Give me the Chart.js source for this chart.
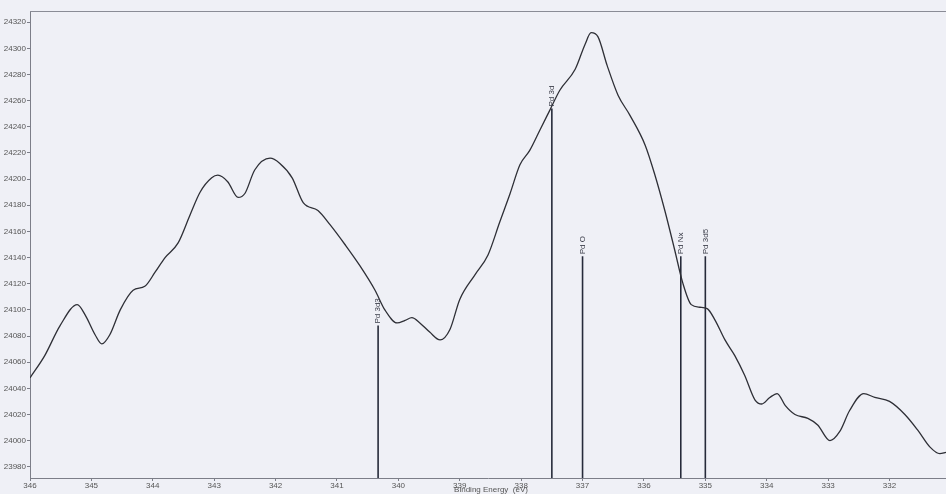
<!DOCTYPE html>
<html>
<head>
<meta charset="utf-8">
<script src="https://cdn.jsdelivr.net/npm/chart.js@4.4.1/dist/chart.umd.min.js"></script>
<style>
  html, body { margin: 0; padding: 0; background: #eff0f6; }
  #wrap { width: 946px; height: 494px; position: relative; }
</style>
</head>
<body>
<div id="wrap"><canvas id="xps-chart"></canvas></div>
<script>
// binding energy (eV) and counts
const energy = [346.00, 345.76, 345.51, 345.23, 345.10, 344.94, 344.83, 344.70, 344.53, 344.32,
  344.13, 343.96, 343.80, 343.59, 343.39, 343.23, 343.04, 342.94, 342.78, 342.61,
  342.50, 342.34, 342.09, 341.93, 341.73, 341.55, 341.31, 341.11, 340.87, 340.63,
  340.38, 340.22, 340.02, 339.89, 339.78, 339.65, 339.49, 339.32, 339.16, 339.00,
  338.75, 338.54, 338.35, 338.18, 338.02, 337.86, 337.69, 337.53, 337.37, 337.12,
  336.96, 336.86, 336.75, 336.60, 336.42, 336.23, 335.98, 335.82, 335.66, 335.50,
  335.37, 335.23, 335.09, 334.97, 334.84, 334.68, 334.52, 334.36, 334.19, 334.08,
  333.95, 333.83, 333.70, 333.54, 333.33, 333.17, 332.97, 332.81, 332.65, 332.42,
  332.24, 332.00, 331.75, 331.54, 331.34, 331.18, 331.08];
const counts = [24048, 24065, 24088, 24104, 24096, 24081, 24074, 24081, 24100, 24115,
  24118, 24129, 24140, 24151, 24173, 24190, 24201, 24203, 24198, 24186,
  24189, 24207, 24216, 24212, 24201, 24182, 24176, 24165, 24150, 24134,
  24115, 24100, 24090, 24092, 24094, 24090, 24083, 24077, 24085, 24108,
  24127, 24142, 24167, 24189, 24211, 24222, 24238, 24253, 24268, 24284,
  24303, 24312, 24309, 24287, 24264, 24249, 24226, 24203, 24176, 24146,
  24121, 24104, 24102, 24101, 24092, 24077, 24065, 24050, 24031, 24028,
  24033, 24036, 24027, 24020, 24017, 24012, 24000, 24007, 24023, 24036,
  24033, 24030, 24020, 24008, 23995, 23990, 23991];

// peak markers
const peakNames = ['Pd 3d3', 'Pd 3d', 'Pd O', 'Pd Nx', 'Pd 3d5'];
const peakEnergy = [340.33, 337.50, 337.00, 335.40, 335.00];
const peakTop = [24088, 24254, 24141, 24141, 24141];

const xMin = 331.08, xMax = 346;
const yMin = 23971.4, yMax = 24328.6;

const trace = energy.map((e, i) => ({ x: e, y: counts[i] }));

const markerSets = peakEnergy.map((e, i) => ({
  data: [{ x: e, y: yMin }, { x: e, y: peakTop[i] }],
  showLine: true,
  borderColor: '#262a3a',
  borderWidth: 1.6,
  pointRadius: 0,
  tension: 0
}));

const tickFont = { family: "'Liberation Sans Narrow', 'Liberation Sans', Arial, sans-serif", size: 8 };

const decorations = {
  id: 'decorations',
  afterDraw(chart) {
    const { ctx, chartArea, scales } = chart;
    ctx.save();
    // top frame
    ctx.strokeStyle = '#8a8c96';
    ctx.lineWidth = 1;
    ctx.beginPath();
    ctx.moveTo(chartArea.left, chartArea.top + 0.5);
    ctx.lineTo(chartArea.right, chartArea.top + 0.5);
    ctx.stroke();
    // peak labels, rotated
    ctx.fillStyle = '#3a3c48';
    ctx.font = "8px 'Liberation Sans Narrow', 'Liberation Sans', Arial, sans-serif";
    ctx.textAlign = 'left';
    ctx.textBaseline = 'middle';
    peakNames.forEach((name, i) => {
      const px = scales.x.getPixelForValue(peakEnergy[i]);
      const py = scales.y.getPixelForValue(peakTop[i]);
      ctx.save();
      ctx.translate(px, py - 2);
      ctx.rotate(-Math.PI / 2);
      ctx.fillText(name, 0, 0);
      ctx.restore();
    });
    // axis title
    ctx.fillStyle = '#555';
    ctx.textAlign = 'center';
    ctx.fillText('Binding Energy  (eV)', 491, 490);
    ctx.restore();
  }
};

new Chart(document.getElementById('xps-chart'), {
  type: 'scatter',
  data: {
    datasets: [{
      data: trace,
      showLine: true,
      borderColor: '#2e2f36',
      borderWidth: 1.3,
      pointRadius: 0,
      cubicInterpolationMode: 'monotone'
    }, ...markerSets]
  },
  options: {
    responsive: true,
    maintainAspectRatio: false,
    animation: false,
    layout: { padding: { top: 11, right: 0, left: 0, bottom: 0 } },
    plugins: { legend: { display: false }, tooltip: { enabled: false } },
    scales: {
      x: {
        type: 'linear',
        reverse: true,
        min: xMin,
        max: xMax,
        afterFit: (s) => { s.height = 16; },
        border: { color: '#7c7e88', width: 1 },
        grid: { drawOnChartArea: false, tickLength: 3, color: '#7c7e88' },
        ticks: { stepSize: 1, includeBounds: false, color: '#555', font: tickFont, padding: 0, maxRotation: 0,
          callback: (v) => String(v) }
      },
      y: {
        min: yMin,
        max: yMax,
        afterFit: (s) => { s.width = 30; },
        border: { color: '#7c7e88', width: 1 },
        grid: { drawOnChartArea: false, tickLength: 3, color: '#7c7e88' },
        ticks: { stepSize: 20, includeBounds: false, color: '#555', font: tickFont, padding: 1,
          callback: (v) => String(v) }
      }
    }
  },
  plugins: [decorations]
});
</script>
</body>
</html>
